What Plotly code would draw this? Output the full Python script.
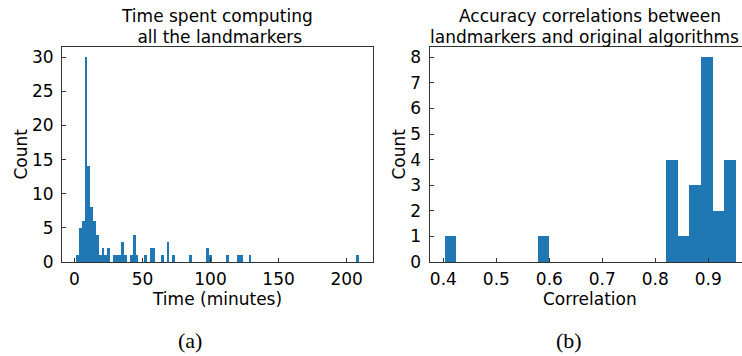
import plotly.graph_objects as go

W, H = 742, 356

# Histogram of computation time (minutes): 100 equal bins
time_bin_start = 1.29
time_bin_width = 2.077
time_counts = [
    1, 5, 6, 30, 14, 8, 6, 4, 1, 2,
    1, 2, 0, 1, 1, 1, 3, 1, 0, 1,
    4, 1, 0, 0, 1, 0, 2, 2, 0, 0,
    1, 0, 3, 0, 1, 0, 0, 0, 0, 0,
    1, 0, 0, 0, 0, 0, 2, 1, 0, 0,
    0, 0, 0, 1, 0, 0, 0, 1, 1, 0,
    0, 1, 0, 0, 0, 0, 0, 0, 0, 0,
    0, 0, 0, 0, 0, 0, 0, 0, 0, 0,
    0, 0, 0, 0, 0, 0, 0, 0, 0, 0,
    0, 0, 0, 0, 0, 0, 0, 0, 0, 1,
]
time_ticks = [0, 50, 100, 150, 200]
time_yticks = [0, 5, 10, 15, 20, 25, 30]

# Histogram of accuracy correlations: 25 equal bins
corr_bin_start = 0.4013
corr_bin_width = 0.022
corr_counts = [
    1, 0, 0, 0, 0, 0, 0, 0, 1, 0,
    0, 0, 0, 0, 0, 0, 0, 0, 0, 4,
    1, 3, 8, 2, 4,
]
corr_ticks = [0.4, 0.5, 0.6, 0.7, 0.8, 0.9]
corr_yticks = [0, 1, 2, 3, 4, 5, 6, 7, 8]

BLUE = "#1f77b4"
AX = "#333333"
FONT = "DejaVu Sans"
FS = 17


def centers(start, width, n):
    return [start + width * (i + 0.5) for i in range(n)]


fig = go.Figure()
fig.add_bar(
    x=centers(time_bin_start, time_bin_width, len(time_counts)),
    y=time_counts, width=time_bin_width,
    marker=dict(color=BLUE, line=dict(width=0)),
    xaxis="x", yaxis="y", showlegend=False,
)
fig.add_bar(
    x=centers(corr_bin_start, corr_bin_width, len(corr_counts)),
    y=corr_counts, width=corr_bin_width,
    marker=dict(color=BLUE, line=dict(width=0)),
    xaxis="x2", yaxis="y2", showlegend=False,
)

# pixel geometry of the two panels
L1, R1 = 62, 373
L2, R2 = 429.5, 742
TOP, BOT = 47, 262
ydom = [(H - BOT) / H, (H - TOP) / H]

common = dict(
    showline=True, linecolor=AX, linewidth=1,
    ticks="inside", ticklen=4, tickwidth=1, tickcolor=AX,
    showgrid=False, zeroline=False, automargin=False,
    tickfont=dict(family=FONT, size=FS, color="black"),
)

t_span = len(time_counts) * time_bin_width
t_min = time_bin_start - 0.05 * t_span
t_max = time_bin_start + t_span + 0.05 * t_span

c_span = len(corr_counts) * corr_bin_width
c_min = corr_bin_start - 0.05 * c_span
c_full = corr_bin_start + c_span + 0.05 * c_span
# full right panel would end past the page edge; only the visible part is kept
c_px_per_unit = (750 - L2) / (c_full - c_min)
c_max = c_min + (R2 - L2) / c_px_per_unit

fig.update_layout(
    template=None,
    autosize=False,
    width=W, height=H,
    margin=dict(l=0, r=0, t=0, b=0, pad=0),
    paper_bgcolor="white", plot_bgcolor="white",
    bargap=0,
    xaxis=dict(domain=[L1 / W, R1 / W], range=[t_min, t_max],
               tickvals=time_ticks, mirror=True, anchor="y", **common),
    yaxis=dict(domain=ydom, range=[0, 31.5], tickvals=time_yticks,
               mirror=True, anchor="x", ticklabelstandoff=4, **common),
    xaxis2=dict(domain=[L2 / W, 1.0], range=[c_min, c_max],
                tickvals=corr_ticks, ticktext=[f"{v:.1f}" for v in corr_ticks],
                mirror=True, anchor="y2", **common),
    yaxis2=dict(domain=ydom, range=[0, 8.4], tickvals=corr_yticks,
                mirror=False, anchor="x2", ticklabelstandoff=4, **common),
)
fig.update_xaxes(ticklabelstandoff=2)


def label(text, xpx, ypx, size=FS, family=FONT, angle=0, anchor="center"):
    fig.add_annotation(
        text=text, x=xpx / W, y=(H - ypx) / H, xref="paper", yref="paper",
        showarrow=False, xanchor=anchor, yanchor="middle",
        textangle=angle, font=dict(family=family, size=size, color="black"),
    )


# panel titles
label("Time spent computing", (L1 + R1) / 2, 16)
label(" all the landmarkers", (L1 + R1) / 2, 37)
label("Accuracy correlations between", (L2 + 750) / 2, 16)
label("landmarkers and original algorithms", W - 1, 37, anchor="right")

# axis titles
label("Count", 20, (TOP + BOT) / 2, angle=-90)
label("Count", 398, (TOP + BOT) / 2, angle=-90)
label("Time (minutes)", (L1 + R1) / 2, 299)
label("Correlation", 590, 299)

# sub-figure captions
label("(a)", 190, 340, size=22, family="Liberation Serif")
label("(b)", 569, 340, size=22, family="Liberation Serif")

fig.write_html("out.html", config={"responsive": False})
